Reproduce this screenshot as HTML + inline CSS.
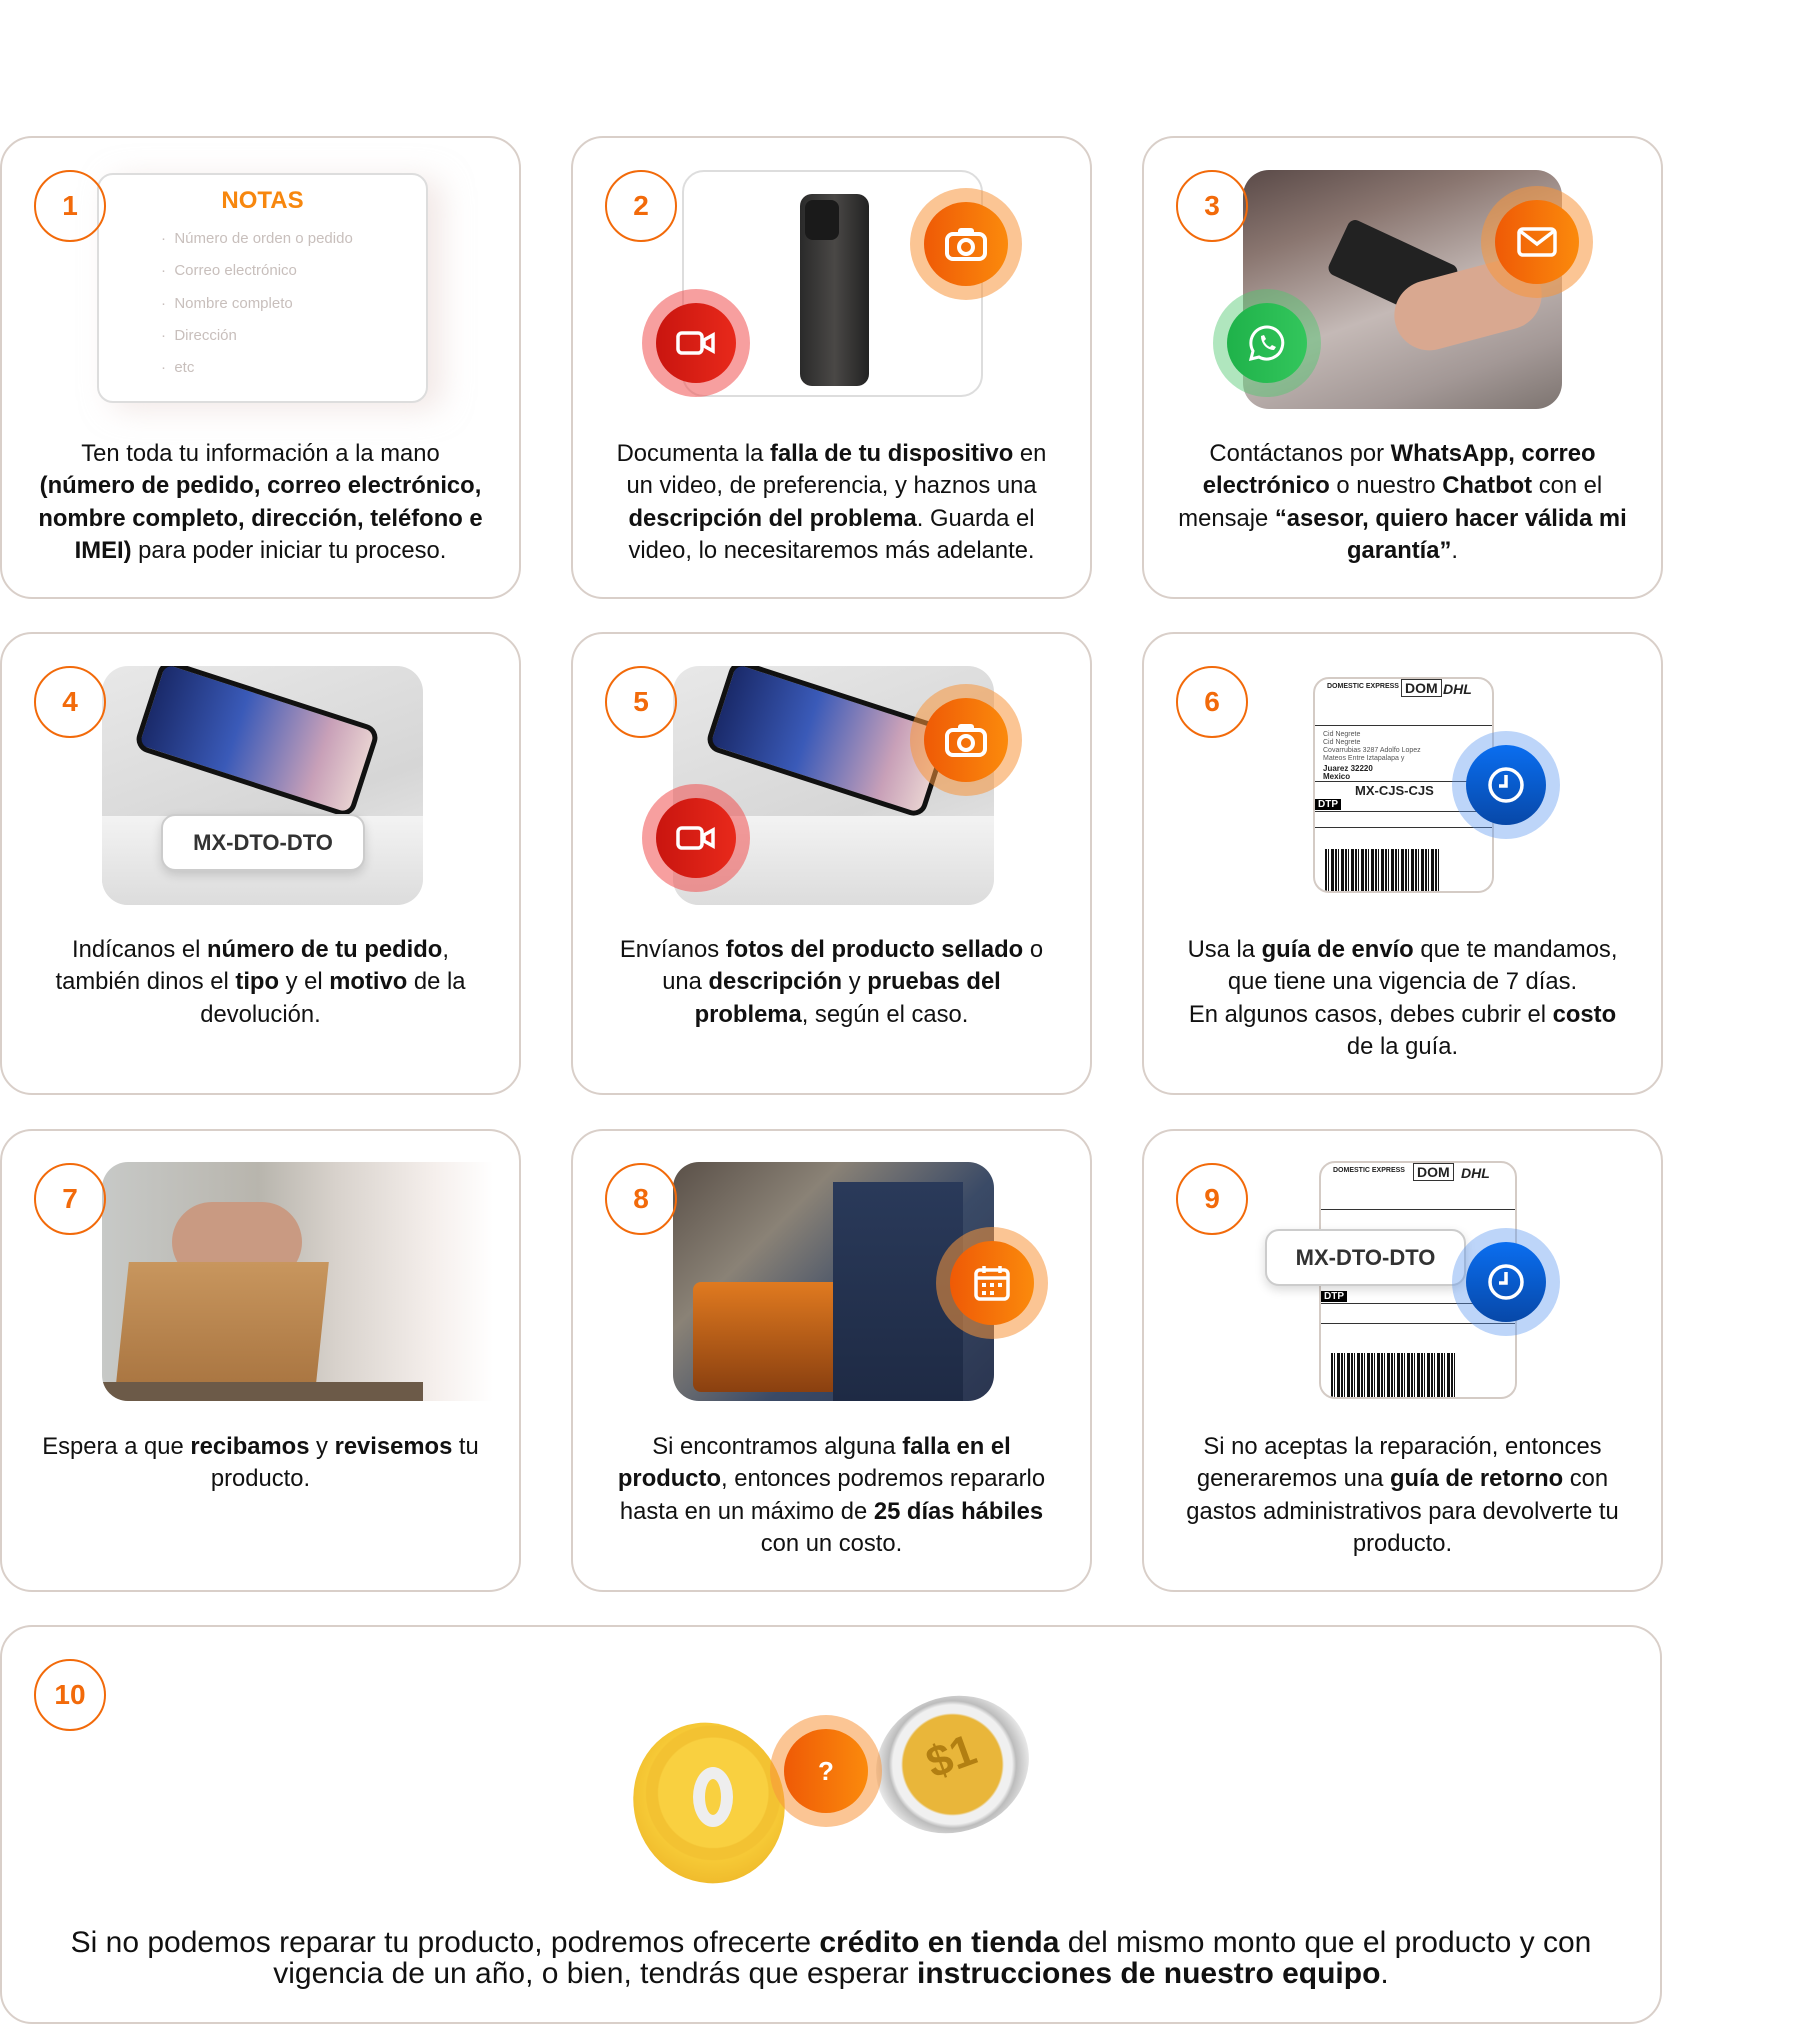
<!DOCTYPE html>
<html><head><meta charset="utf-8">
<style>
*{margin:0;padding:0;box-sizing:border-box}
body{width:1802px;height:2024px;background:#fff;position:relative;overflow:hidden;font-family:"Liberation Sans",sans-serif;color:#111}
.card{position:absolute;width:521px;height:463px;border:2px solid #d9cfc9;border-radius:32px;background:#fff;overflow:hidden}
.num{position:absolute;left:32px;top:32px;width:72px;height:72px;border:2.5px solid #f26a0a;border-radius:50%;color:#f26a0a;font-weight:bold;font-size:28px;text-align:center;line-height:67px;z-index:5;background:transparent}
.txt{position:absolute;left:0;right:0;top:300px;text-align:center;font-size:23.8px;line-height:32.3px;white-space:nowrap}
.txt b{font-weight:bold}
.img{position:absolute;border-radius:26px;overflow:hidden}
.halo{position:absolute;border-radius:50%;z-index:4}
.halo .in{position:absolute;left:14px;top:14px;right:14px;bottom:14px;border-radius:50%;display:flex;align-items:center;justify-content:center}
.or{background:rgba(247,150,60,.55)}
.or .in{background:linear-gradient(90deg,#ef5a06,#fb8a0c)}
.rd{background:rgba(240,80,80,.55)}
.rd .in{background:linear-gradient(90deg,#c9150f,#e8291b)}
.gr{background:rgba(80,200,110,.45)}
.gr .in{background:linear-gradient(90deg,#1fb24a,#33c65c)}
.bl{background:rgba(90,150,240,.4)}
.bl .in{background:linear-gradient(180deg,#0a6ef0,#0748a8)}
.label{position:absolute;background:#fff;border:2px solid #ccc;border-radius:14px;font-weight:bold;color:#333;font-size:22px;text-align:center;box-shadow:0 4px 10px rgba(0,0,0,.15);z-index:3}
.ship{position:absolute;background:#fff;border:2px solid #d4cbc5;border-radius:16px;overflow:hidden;font-size:7px;color:#222}
.bar{position:absolute;background:repeating-linear-gradient(90deg,#111 0 2px,#fff 2px 3px,#111 3px 4px,#fff 4px 6px,#111 6px 9px,#fff 9px 10px)}
</style></head><body>

<!-- Card 1 -->
<div class="card" style="left:0;top:136px">
<div class="num">1</div>
<div style="position:absolute;left:95px;top:35px;width:331px;height:230px;border:2px solid #ddd;border-radius:16px;background:#fff;box-shadow:14px 6px 30px rgba(230,210,205,.5)">
<div style="position:absolute;left:0;right:0;top:12px;text-align:center;color:#f7870e;font-weight:bold;font-size:24px">NOTAS</div>
<div style="position:absolute;left:62px;top:48px;color:#c8bfbc;font-size:15px;line-height:32.3px">· &nbsp;Número de orden o pedido<br>· &nbsp;Correo electrónico<br>· &nbsp;Nombre completo<br>· &nbsp;Dirección<br>· &nbsp;etc</div>
</div>
<div class="txt">Ten toda tu información a la mano<br><b>(número de pedido, correo electrónico,</b><br><b>nombre completo, dirección, teléfono e</b><br><b>IMEI)</b> para poder iniciar tu proceso.</div>
</div>

<!-- Card 2 -->
<div class="card" style="left:571px;top:136px">
<div class="num">2</div>
<div style="position:absolute;left:109px;top:32px;width:301px;height:227px;border:2px solid #ddd;border-radius:22px"></div>
<div style="position:absolute;left:227px;top:56px;width:69px;height:192px;border-radius:12px;background:linear-gradient(90deg,#2a2a2a,#4a4846 50%,#222)"></div>
<div style="position:absolute;left:232px;top:62px;width:34px;height:40px;border-radius:8px;background:#1a1a1a"></div>
<div class="halo or" style="left:337px;top:50px;width:112px;height:112px"><div class="in"><svg width="44" height="36" viewBox="0 0 44 36"><rect x="3" y="8" width="38" height="25" rx="6" fill="none" stroke="#fff" stroke-width="4"/><rect x="14" y="2" width="16" height="8" rx="3" fill="#fff"/><circle cx="22" cy="21" r="7" fill="none" stroke="#fff" stroke-width="4"/></svg></div></div>
<div class="halo rd" style="left:69px;top:151px;width:108px;height:108px"><div class="in"><svg width="40" height="26" viewBox="0 0 40 26"><rect x="2" y="3" width="24" height="20" rx="4" fill="none" stroke="#fff" stroke-width="3.5"/><path d="M28 10 L37 5 V21 L28 16Z" fill="none" stroke="#fff" stroke-width="3.5"/></svg></div></div>
<div class="txt">Documenta la <b>falla de tu dispositivo</b> en<br>un video, de preferencia, y haznos una<br><b>descripción del problema</b>. Guarda el<br>video, lo necesitaremos más adelante.</div>
</div>

<!-- Card 3 -->
<div class="card" style="left:1142px;top:136px">
<div class="num">3</div>
<div class="img" style="left:99px;top:32px;width:319px;height:239px;background:linear-gradient(160deg,#5a4a48 0%,#8a7670 25%,#c4b9b6 55%,#a39896 80%,#7d7470 100%)">
<div style="position:absolute;left:90px;top:70px;width:120px;height:60px;background:#222;transform:rotate(25deg);border-radius:8px"></div>
<div style="position:absolute;left:150px;top:100px;width:150px;height:70px;background:#d9a890;border-radius:40px;transform:rotate(-15deg)"></div>
</div>
<div class="halo or" style="left:337px;top:48px;width:112px;height:112px"><div class="in"><svg width="40" height="30" viewBox="0 0 40 30"><rect x="2" y="2" width="36" height="26" rx="4" fill="none" stroke="#fff" stroke-width="3.5"/><path d="M3 4 L20 17 L37 4" fill="none" stroke="#fff" stroke-width="3.5"/></svg></div></div>
<div class="halo gr" style="left:69px;top:151px;width:108px;height:108px"><div class="in"><svg width="38" height="38" viewBox="0 0 38 38"><path d="M19 3a16 16 0 0 0-14 24l-2 8 8-2A16 16 0 1 0 19 3z" fill="none" stroke="#fff" stroke-width="3"/><path d="M13 12c0 8 6 14 13 14l2-3-4-2-2 2c-3-1-5-4-6-6l2-2-2-4z" fill="#fff"/></svg></div></div>
<div class="txt">Contáctanos por <b>WhatsApp, correo</b><br><b>electrónico</b> o nuestro <b>Chatbot</b> con el<br>mensaje <b>“asesor, quiero hacer válida mi</b><br><b>garantía”</b>.</div>
</div>

<!-- Card 4 -->
<div class="card" style="left:0;top:632px">
<div class="num">4</div>
<div class="img" style="left:100px;top:32px;width:321px;height:239px;background:linear-gradient(160deg,#e8e8e8,#d6d6d6 60%,#eee)">
<div style="position:absolute;left:40px;top:25px;width:230px;height:95px;background:linear-gradient(90deg,#1a2a6a,#3a5ab8 40%,#c8a0b8 80%,#e7d0d0);border-radius:14px;border:5px solid #111;transform:rotate(18deg)"></div>
<div style="position:absolute;left:0;top:150px;width:321px;height:90px;background:linear-gradient(180deg,#f3f3f3,#dcdcdc)"></div>
</div>
<div class="label" style="left:159px;top:180px;width:204px;height:57px;line-height:53px">MX-DTO-DTO</div>
<div class="txt">Indícanos el <b>número de tu pedido</b>,<br>también dinos el <b>tipo</b> y el <b>motivo</b> de la<br>devolución.</div>
</div>

<!-- Card 5 -->
<div class="card" style="left:571px;top:632px">
<div class="num">5</div>
<div class="img" style="left:100px;top:32px;width:321px;height:239px;background:linear-gradient(160deg,#e8e8e8,#d6d6d6 60%,#eee)">
<div style="position:absolute;left:40px;top:25px;width:230px;height:95px;background:linear-gradient(90deg,#1a2a6a,#3a5ab8 40%,#c8a0b8 80%,#e7d0d0);border-radius:14px;border:5px solid #111;transform:rotate(18deg)"></div>
<div style="position:absolute;left:0;top:150px;width:321px;height:90px;background:linear-gradient(180deg,#f3f3f3,#dcdcdc)"></div>
</div>
<div class="halo or" style="left:337px;top:50px;width:112px;height:112px"><div class="in"><svg width="44" height="36" viewBox="0 0 44 36"><rect x="3" y="8" width="38" height="25" rx="6" fill="none" stroke="#fff" stroke-width="4"/><rect x="14" y="2" width="16" height="8" rx="3" fill="#fff"/><circle cx="22" cy="21" r="7" fill="none" stroke="#fff" stroke-width="4"/></svg></div></div>
<div class="halo rd" style="left:69px;top:150px;width:108px;height:108px"><div class="in"><svg width="40" height="26" viewBox="0 0 40 26"><rect x="2" y="3" width="24" height="20" rx="4" fill="none" stroke="#fff" stroke-width="3.5"/><path d="M28 10 L37 5 V21 L28 16Z" fill="none" stroke="#fff" stroke-width="3.5"/></svg></div></div>
<div class="txt">Envíanos <b>fotos del producto sellado</b> o<br>una <b>descripción</b> y <b>pruebas del</b><br><b>problema</b>, según el caso.</div>
</div>

<!-- Card 6 -->
<div class="card" style="left:1142px;top:632px">
<div class="num">6</div>
<div class="ship" style="left:169px;top:43px;width:181px;height:216px">
<div style="position:absolute;left:12px;top:4px;font-weight:bold;font-size:7px">DOMESTIC EXPRESS</div>
<div style="position:absolute;left:86px;top:0;border:1px solid #333;padding:0 3px;font-weight:bold;font-size:14px">DOM</div>
<div style="position:absolute;left:128px;top:2px;font-weight:bold;font-style:italic;font-size:14px">DHL</div>
<div style="position:absolute;left:0;right:0;top:46px;border-top:1px solid #333"></div>
<div style="position:absolute;left:8px;top:52px;line-height:8px;color:#555">Cid Negrete<br>Cid Negrete<br>Covarrubias 3287 Adolfo Lopez<br>Mateos Entre Iztapalapa y</div>
<div style="position:absolute;left:8px;top:86px;font-weight:bold;font-size:8px;line-height:8px">Juarez 32220<br>Mexico</div>
<div style="position:absolute;left:0;right:0;top:102px;border-top:1px solid #333"></div>
<div style="position:absolute;left:40px;top:104px;font-weight:bold;font-size:13px">MX-CJS-CJS</div>
<div style="position:absolute;left:0;top:120px;background:#000;color:#fff;font-weight:bold;font-size:10px;padding:0 3px">DTP</div>
<div style="position:absolute;left:0;right:0;top:132px;border-top:1px solid #333"></div>
<div style="position:absolute;left:0;right:0;top:148px;border-top:1px solid #333"></div>
<div class="bar" style="left:10px;top:170px;width:115px;height:45px"></div>
</div>
<div class="halo bl" style="left:308px;top:97px;width:108px;height:108px"><div class="in"><svg width="40" height="40" viewBox="0 0 40 40"><circle cx="20" cy="20" r="16" fill="none" stroke="#fff" stroke-width="3.5"/><path d="M20 10 V21 H13" fill="none" stroke="#fff" stroke-width="3.5"/></svg></div></div>
<div class="txt">Usa la <b>guía de envío</b> que te mandamos,<br>que tiene una vigencia de 7 días.<br>En algunos casos, debes cubrir el <b>costo</b><br>de la guía.</div>
</div>

<!-- Card 7 -->
<div class="card" style="left:0;top:1129px">
<div class="num">7</div>
<div class="img" style="left:100px;top:31px;width:391px;height:239px;border-radius:26px 0 0 26px;background:linear-gradient(90deg,#c7c9c7 0%,#b8b5ad 40%,#d8d2cc 60%,#f5efec 85%,#fff 100%)">
<div style="position:absolute;left:70px;top:40px;width:130px;height:80px;border-radius:40px;background:#c99a82"></div>
<div style="position:absolute;left:20px;top:100px;width:200px;height:130px;background:linear-gradient(180deg,#c8965e,#a87440);transform:skewX(-6deg)"></div>
<div style="position:absolute;left:0;top:220px;width:321px;height:21px;background:#6c5a48"></div>
</div>
<div class="txt">Espera a que <b>recibamos</b> y <b>revisemos</b> tu<br>producto.</div>
</div>

<!-- Card 8 -->
<div class="card" style="left:571px;top:1129px">
<div class="num">8</div>
<div class="img" style="left:100px;top:31px;width:321px;height:239px;background:linear-gradient(135deg,#5a5048 0%,#8a8276 30%,#3a4a66 60%,#2a3550 100%)">
<div style="position:absolute;left:20px;top:120px;width:150px;height:110px;background:linear-gradient(180deg,#e07a20,#8a4010);border-radius:8px"></div>
<div style="position:absolute;left:160px;top:20px;width:130px;height:221px;background:linear-gradient(180deg,#2a3a5a,#1e2a44)"></div>
</div>
<div class="halo or" style="left:363px;top:96px;width:112px;height:112px"><div class="in"><svg width="38" height="38" viewBox="0 0 38 38"><rect x="3" y="6" width="32" height="29" rx="4" fill="none" stroke="#fff" stroke-width="3.5"/><path d="M3 14 H35 M11 2 V9 M27 2 V9" stroke="#fff" stroke-width="3.5"/><g fill="#fff"><rect x="9" y="19" width="4" height="4"/><rect x="17" y="19" width="4" height="4"/><rect x="25" y="19" width="4" height="4"/><rect x="9" y="27" width="4" height="4"/><rect x="17" y="27" width="4" height="4"/></g></svg></div></div>
<div class="txt">Si encontramos alguna <b>falla en el</b><br><b>producto</b>, entonces podremos repararlo<br>hasta en un máximo de <b>25 días hábiles</b><br>con un costo.</div>
</div>

<!-- Card 9 -->
<div class="card" style="left:1142px;top:1129px">
<div class="num">9</div>
<div class="ship" style="left:175px;top:30px;width:198px;height:238px">
<div style="position:absolute;left:12px;top:4px;font-weight:bold;font-size:7px">DOMESTIC EXPRESS</div>
<div style="position:absolute;left:92px;top:0;border:1px solid #333;padding:0 3px;font-weight:bold;font-size:14px">DOM</div>
<div style="position:absolute;left:140px;top:2px;font-weight:bold;font-style:italic;font-size:14px">DHL</div>
<div style="position:absolute;left:0;right:0;top:46px;border-top:1px solid #333"></div>
<div style="position:absolute;left:0;top:128px;background:#000;color:#fff;font-weight:bold;font-size:10px;padding:0 3px">DTP</div>
<div style="position:absolute;left:0;right:0;top:140px;border-top:1px solid #333"></div>
<div style="position:absolute;left:0;right:0;top:160px;border-top:1px solid #333"></div>
<div class="bar" style="left:10px;top:190px;width:125px;height:46px"></div>
</div>
<div class="label" style="left:121px;top:98px;width:201px;height:57px;line-height:53px">MX-DTO-DTO</div>
<div class="halo bl" style="left:308px;top:97px;width:108px;height:108px"><div class="in"><svg width="40" height="40" viewBox="0 0 40 40"><circle cx="20" cy="20" r="16" fill="none" stroke="#fff" stroke-width="3.5"/><path d="M20 10 V21 H13" fill="none" stroke="#fff" stroke-width="3.5"/></svg></div></div>
<div class="txt">Si no aceptas la reparación, entonces<br>generaremos una <b>guía de retorno</b> con<br>gastos administrativos para devolverte tu<br>producto.</div>
</div>

<!-- Card 10 -->
<div class="card" style="left:0;top:1625px;width:1662px;height:399px">
<div class="num">10</div>
<div style="position:absolute;left:632px;top:95px;width:150px;height:162px;border-radius:50%;background:radial-gradient(circle at 55% 45%,#f9d040 0 45%,#f3c232 46% 55%,#f6c936 56%,#e8a920 100%);transform:rotate(-20deg)"></div>
<div style="position:absolute;left:691px;top:140px;width:40px;height:60px;border-radius:50%;border:12px solid #eee;"></div>
<div style="position:absolute;left:873px;top:70px;width:155px;height:135px;border-radius:50%;background:radial-gradient(circle,#e9b63a 0 48%,#f0f0f0 50% 58%,#bcbcbc 62%,#e8e8e8 75%,#999 100%);transform:rotate(-20deg)"></div>
<div style="position:absolute;left:925px;top:105px;color:#b27f12;font-weight:bold;font-size:44px;transform:rotate(-20deg)">$1</div>
<div class="halo or" style="left:768px;top:88px;width:112px;height:112px"><div class="in" style="color:#fff;font-weight:bold;font-size:26px">?</div></div>
<div style="position:absolute;left:0;right:0;top:300px;text-align:center;font-size:30px;line-height:31px;white-space:nowrap">Si no podemos reparar tu producto, podremos ofrecerte <b>crédito en tienda</b> del mismo monto que el producto y con<br>vigencia de un año, o bien, tendrás que esperar <b>instrucciones de nuestro equipo</b>.</div>
</div>

</body></html>
